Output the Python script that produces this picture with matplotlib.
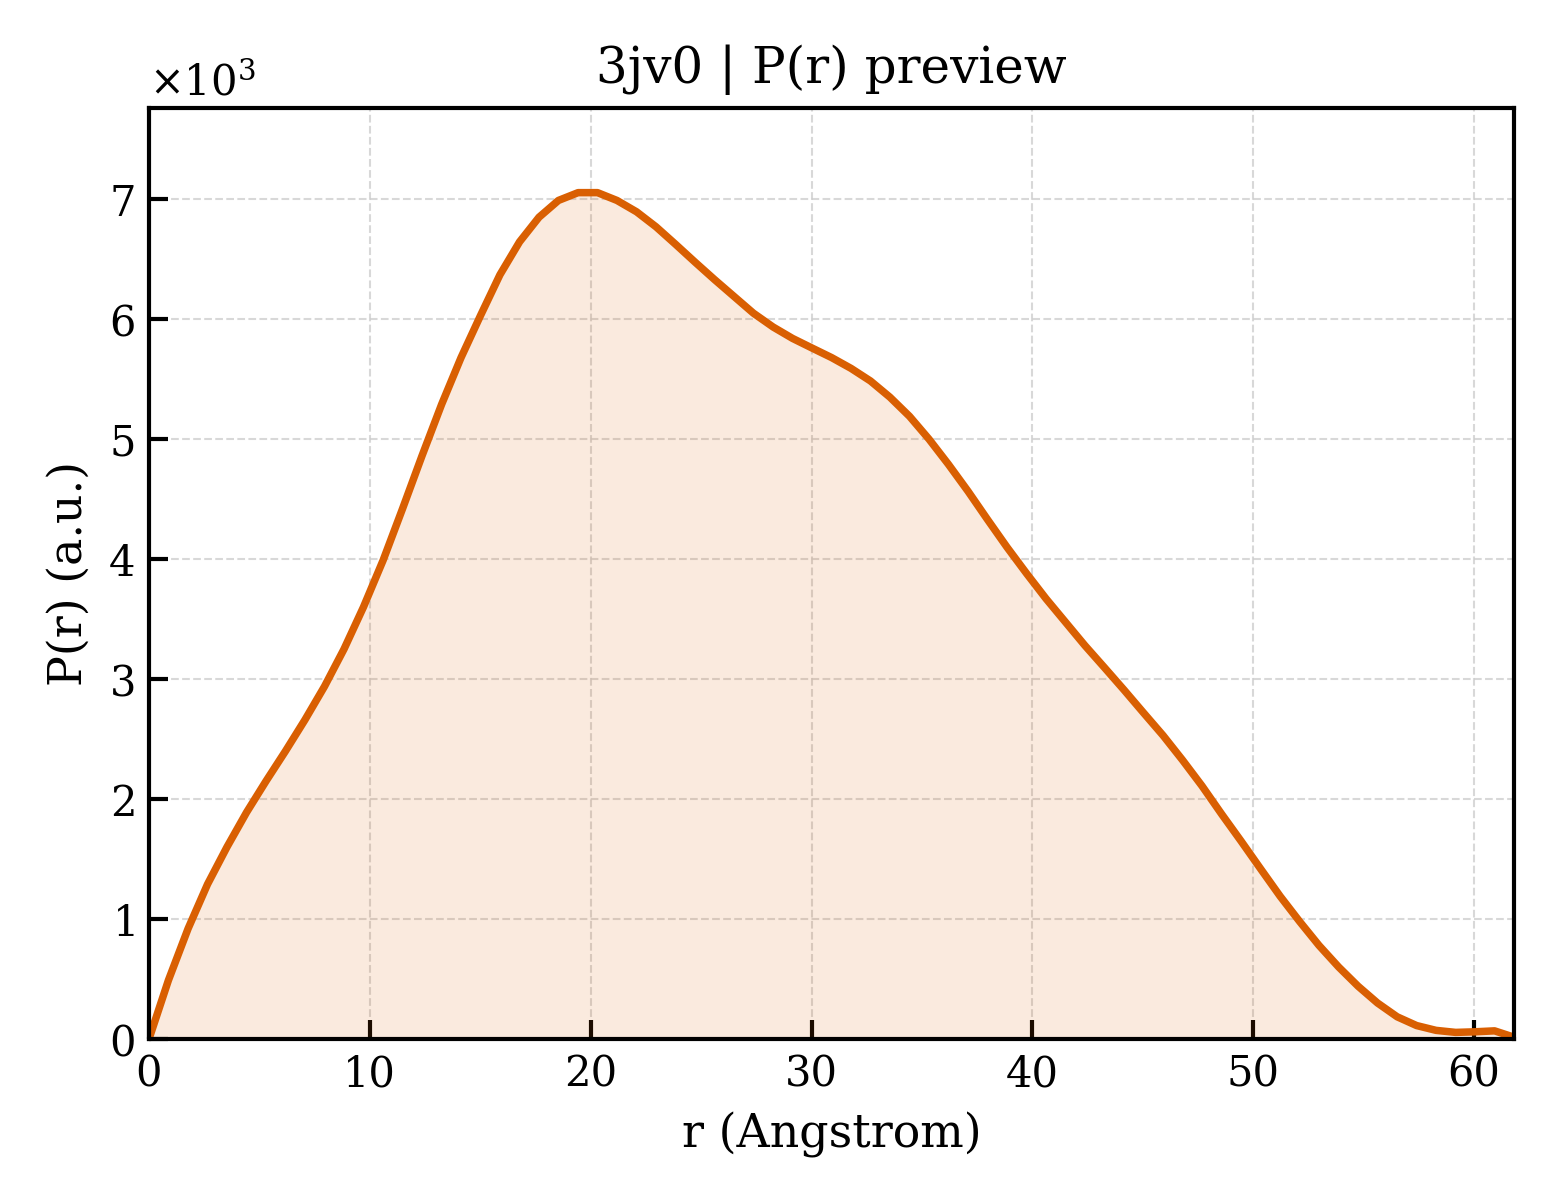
import numpy as np
import matplotlib
matplotlib.use("Agg")
import matplotlib.pyplot as plt

r_values = [0.00, 0.88, 1.77, 2.65, 3.53, 4.42, 5.30, 6.18, 7.06, 7.95,
            8.83, 9.71, 10.60, 11.48, 12.36, 13.25, 14.13, 15.01, 15.89, 16.78,
            17.66, 18.54, 19.43, 20.31, 21.19, 22.08, 22.96, 23.84, 24.73, 25.61,
            26.49, 27.37, 28.26, 29.14, 30.02, 30.91, 31.79, 32.67, 33.55, 34.44,
            35.32, 36.20, 37.09, 37.97, 38.85, 39.74, 40.62, 41.50, 42.38, 43.27,
            44.15, 45.03, 45.92, 46.80, 47.68, 48.57, 49.45, 50.33, 51.22, 52.10,
            52.98, 53.87, 54.75, 55.63, 56.52, 57.40, 58.28, 59.17, 60.05, 60.93,
            61.81]
p_values = [0, 490, 920, 1290, 1600, 1890, 2150, 2400, 2660, 2940,
            3250, 3600, 3990, 4420, 4860, 5290, 5680, 6030, 6370, 6645,
            6850, 6990, 7055, 7055, 6990, 6895, 6770, 6625, 6475, 6330,
            6190, 6050, 5935, 5840, 5760, 5680, 5590, 5485, 5350, 5190,
            5000, 4790, 4565, 4330, 4100, 3880, 3670, 3475, 3280, 3095,
            2910, 2720, 2530, 2325, 2110, 1875, 1650, 1420, 1190, 980,
            780, 600, 440, 300, 185, 112, 72, 55, 60, 68,
            15]

title = "3jv0 | P(r) preview"
xlabel = "r (Angstrom)"
ylabel = "P(r) (a.u.)"

plt.rcParams['font.family'] = ['DejaVu Serif']
plt.rcParams['mathtext.fontset'] = 'dejavuserif'

color = "#D95F02"
fig = plt.figure(figsize=(5.2, 4), dpi=300)
ax = fig.add_axes([149/1560, 1 - 1039/1200, (1514-149)/1560, (1039-108)/1200])

r = np.array(r_values)
p = np.array(p_values, dtype=float)
ax.fill_between(r, 0, p, color=color, alpha=0.13, linewidth=0)
ax.plot(r, p, color=color, linewidth=1.8)

ax.set_xlim(0, r.max())
ax.set_ylim(0, p.max() * 1.1)
ax.grid(True, linestyle='--', linewidth=0.5, color='0.8', alpha=0.75)
ax.set_axisbelow(True)
ax.tick_params(direction='in', length=4.5, width=1.0, labelsize=10)
for s in ax.spines.values():
    s.set_linewidth(1.0)
ax.ticklabel_format(axis='y', style='sci', scilimits=(0, 0), useMathText=True)
ax.yaxis.get_offset_text().set_fontsize(10)

ax.set_title(title, fontsize=12)
ax.set_xlabel(xlabel, fontsize=11)
ax.set_ylabel(ylabel, fontsize=11)

fig.savefig("out.png", dpi=300)
